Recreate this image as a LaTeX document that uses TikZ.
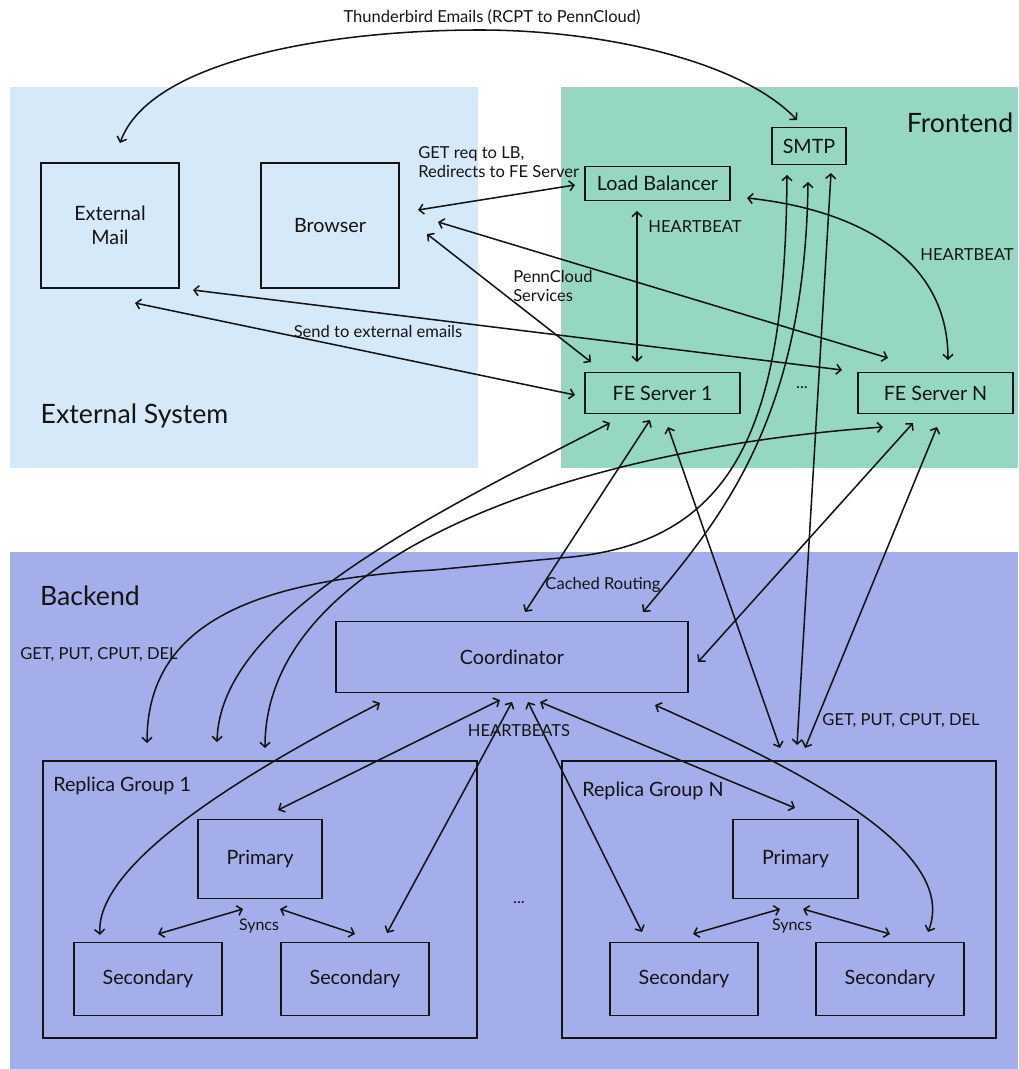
\documentclass[tikz,border=0pt]{standalone}
\usepackage{fontspec}
\setmainfont{Lato}
\usetikzlibrary{arrows.meta,calc}
\definecolor{extbg}{RGB}{214,233,248}
\definecolor{frontbg}{RGB}{150,215,196}
\definecolor{backbg}{RGB}{164,174,235}
\definecolor{ink}{RGB}{20,20,20}
\begin{document}
\begin{tikzpicture}[x=0.75pt,y=-0.75pt,
  box/.style 2 args={draw=ink,line width=1.3pt,inner sep=0pt,minimum width=#1*0.75pt,minimum height=#2*0.75pt,font=\fontsize{14.8}{18}\selectfont,align=center,text=ink},
  conn/.style={draw=ink,line width=1.15pt,{Straight Barb[length=3.5pt,width=7.5pt]}-{Straight Barb[length=3.5pt,width=7.5pt]}},
  lbl/.style={font=\fontsize{12.4}{14.5}\selectfont,text=ink,inner sep=0pt},
  smalllbl/.style={font=\fontsize{12}{14}\selectfont,text=ink,inner sep=0pt},
  big/.style={font=\fontsize{20}{24}\selectfont,text=ink,inner sep=0pt},
  grp/.style={font=\fontsize{14.8}{18}\selectfont,text=ink,inner sep=0pt},
]
\useasboundingbox (0,0) rectangle (1018,1069);
% regions
\fill[extbg] (10,87) rectangle (478,468);
\fill[frontbg] (561,87) rectangle (1018,468);
\fill[backbg] (10,552) rectangle (1018,1069);

% region titles
\node[big] (tfront) at (960,123) {Frontend};
\node[big] (text) at (134.5,416) {External System};
\node[big] (tback) at (90,596) {Backend};

% nodes
\node[box={138}{125}] (extmail) at (110,225.5) {External\\Mail};
\node[box={138}{125}] (browser) at (330,225.5) {Browser};
\node[box={74}{37}] (smtp) at (809,146) {SMTP};
\node[box={145}{34}] (lb) at (657.5,183.5) {Load Balancer};
\node[box={155}{41}] (fe1) at (662.5,393) {FE Server 1};
\node[box={155}{41}] (fen) at (935.5,393) {FE Server N};
\node[lbl] (fedots) at (802,388) {...};
\node[box={352}{71}] (coord) at (512,657) {Coordinator};

\node[box={434}{277}] (rg1) at (260,899.5) {};
\node[grp,anchor=west] (rg1t) at (53,786) {Replica Group 1};
\node[box={124}{79}] (p1) at (260,859) {Primary};
\node[box={148}{73}] (s1a) at (148,979) {Secondary};
\node[box={148}{73}] (s1b) at (355,979) {Secondary};

\node[box={434}{277}] (rgn) at (779,899.5) {};
\node[grp,anchor=west] (rgnt) at (582,791) {Replica Group N};
\node[box={125}{79}] (pn) at (795.5,859) {Primary};
\node[box={148}{73}] (sna) at (684,979) {Secondary};
\node[box={148}{73}] (snb) at (890,979) {Secondary};
\node[lbl] (rgdots) at (519,903) {...};

% labels
\node[lbl] (lthunder) at (492,17) {Thunderbird Emails (RCPT to PennCloud)};
\node[lbl,anchor=west,align=left] (lget) at (418,162) {GET req to LB,\\Redirects to FE Server};
\node[lbl] (lhb1) at (695,227) {HEARTBEAT};
\node[lbl] (lhb2) at (967,255) {HEARTBEAT};
\node[lbl,anchor=west,align=left] (lpenn) at (513,286) {PennCloud\\Services};
\node[lbl] (lsend) at (378,331) {Send to external emails};
\node[lbl] (lcache) at (603,585) {Cached Routing};
\node[lbl] (lgetl) at (99,655) {GET, PUT, CPUT, DEL};
\node[lbl] (lgetr) at (901,721) {GET, PUT, CPUT, DEL};
\node[lbl] (lhbs) at (519,731) {HEARTBEATS};
\node[smalllbl] (lsync1) at (259,926) {Syncs};
\node[smalllbl] (lsyncn) at (792,926) {Syncs};

% connectors: external / frontend
\draw[conn] ($(extmail)+(10,-82.5)$) .. controls (150,60) and (330,30) .. (480,30)
  .. controls (600,30) and (740,60) .. ($(smtp)+(-12,-26)$);
\draw[conn] ($(browser)+(88,-15.5)$) -- ($(lb)+(-82.5,1.5)$);
\draw[conn] ($(browser)+(108,-3.5)$) -- ($(fen)+(-47.5,-35)$);
\draw[conn] ($(browser)+(97,8.5)$) -- ($(fe1)+(-71.5,-31)$);
\draw[conn] ($(lb)+(-20.5,27.5)$) -- ($(fe1)+(-25.5,-31)$);
\draw[conn] ($(lb)+(89.5,14.5)$) .. controls (860,210) and (948,260) .. ($(fen)+(12.5,-33)$);
\draw[conn] ($(extmail)+(25,77.5)$) -- ($(fe1)+(-87.5,2)$);
\draw[conn] ($(extmail)+(83,64.5)$) -- ($(fen)+(-93.5,-23)$);

% SMTP to backend
\draw[conn] ($(smtp)+(-22,29)$) .. controls (785,420) and (740,545) .. (560,558)
  -- (433,570) .. controls (260,580) and (147,620) .. ($(rg1)+(-113,-156.5)$);
\draw[conn] ($(smtp)+(-1,36)$) .. controls (805,420) and (720,520) .. ($(coord)+(131,-45)$);
\draw[conn] ($(smtp)+(22,27)$) -- ($(rgn)+(18,-154.5)$);

% FE servers to backend
\draw[conn] ($(fe1)+(5.5,34)$) -- ($(rgn)+(1,-151.5)$);
\draw[conn] ($(fen)+(1.5,34)$) -- ($(rgn)+(26,-151.5)$);
\draw[conn] ($(fen)+(-22.5,30)$) -- ($(coord)+(186,5)$);
\draw[conn] ($(fe1)+(-12.5,27)$) -- ($(coord)+(13,-45)$);
\draw[conn] ($(fe1)+(-52.5,30)$) .. controls (420,520) and (220,620) .. ($(rg1)+(-43,-157.5)$);
\draw[conn] ($(fen)+(-52.5,34)$) .. controls (560,450) and (265,560) .. ($(rg1)+(5,-151.5)$);

% coordinator heartbeats
\draw[conn] ($(coord)+(-12,43)$) -- ($(p1)+(18,-49)$);
\draw[conn] ($(coord)+(-132,46)$) .. controls (260,765) and (95,860) .. ($(s1a)+(-48,-44)$);
\draw[conn] ($(coord)+(0,45)$) -- ($(s1b)+(32,-46)$);
\draw[conn] ($(coord)+(16,45)$) -- ($(sna)+(-42,-47)$);
\draw[conn] ($(coord)+(28,45)$) -- ($(pn)+(-0.5,-51)$);
\draw[conn] ($(coord)+(143,48)$) .. controls (800,770) and (960,850) .. ($(snb)+(38,-47)$);

% syncs
\draw[conn] ($(p1)+(-17,50)$) -- ($(s1a)+(10,-45)$);
\draw[conn] ($(p1)+(20,50)$) -- ($(s1b)+(0,-45)$);
\draw[conn] ($(pn)+(-15.5,50)$) -- ($(sna)+(9,-45)$);
\draw[conn] ($(pn)+(7.5,50)$) -- ($(snb)+(0,-45)$);
\end{tikzpicture}
\end{document}
